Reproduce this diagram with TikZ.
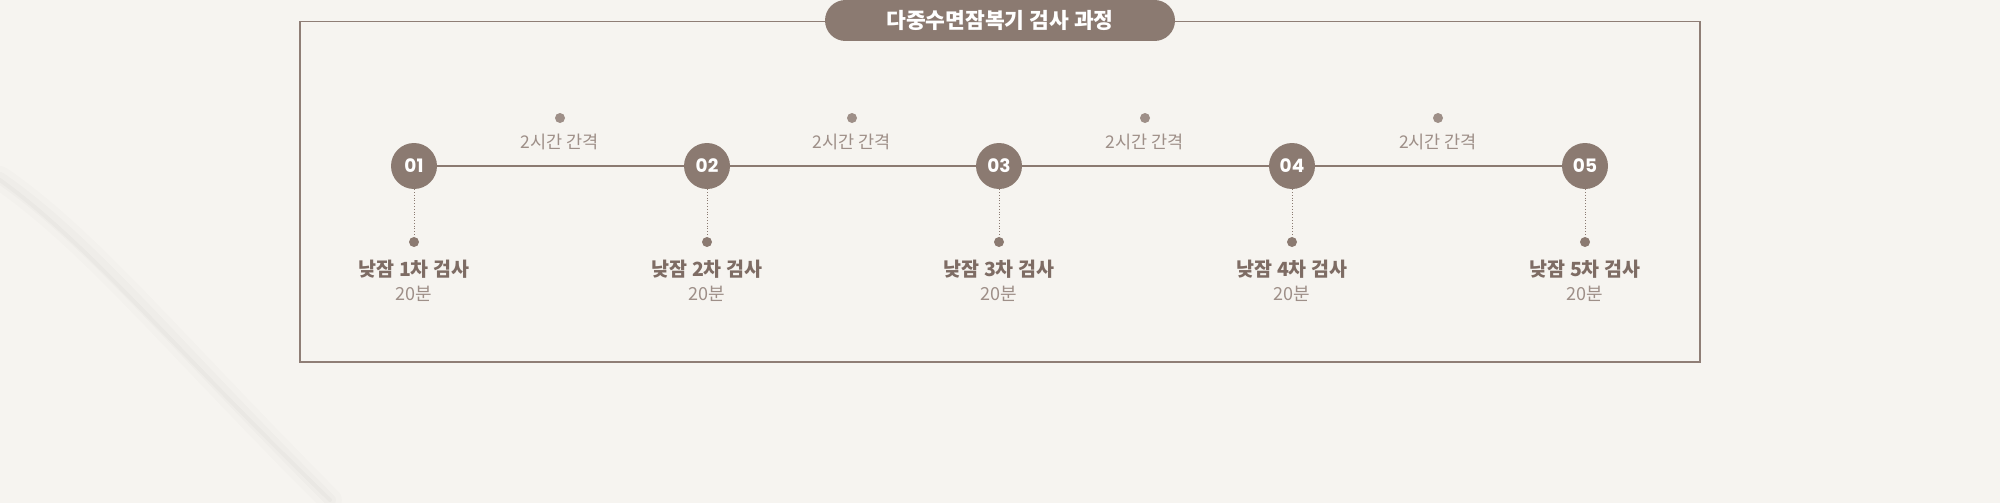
\documentclass[tikz,border=0pt]{standalone}
\usepackage{tikz}
\usepackage{xcolor}
\usepackage{fontspec}
\newfontfamily\krfont{Noto Sans CJK KR}
\newfontfamily\numfont{Poppins}
\definecolor{paper}{HTML}{F6F4F0}
\definecolor{mocha}{HTML}{8B7A71}
\definecolor{mochatext}{HTML}{7E6C64}
\definecolor{mochalight}{HTML}{9E8F88}
\definecolor{frameline}{HTML}{8F7E76}

\begin{document}
\begin{tikzpicture}[x=1pt,y=-1pt,
    stepnum/.style={circle,fill=mocha,minimum size=46pt,inner sep=0pt,text=white,font=\numfont\bfseries\fontsize{18.5}{18.5}\selectfont},
    stepdot/.style={circle,fill=mocha,minimum size=10pt,inner sep=0pt},
    gapdot/.style={circle,fill=mochalight,minimum size=10pt,inner sep=0pt},
    gaptext/.style={text=mochalight,font=\krfont\fontsize{17.5}{17.5}\selectfont},
    steptext/.style={text=mochatext,font=\krfont\bfseries\fontsize{19.5}{19.5}\selectfont},
    timetext/.style={text=mochalight,font=\krfont\fontsize{18}{18}\selectfont},
    titlepill/.style={rounded corners=20.5pt,fill=mocha,minimum width=350pt,minimum height=41pt,inner sep=0pt,text=white,font=\krfont\bfseries\fontsize{21.5}{21.5}\selectfont} ]
    \fill [paper] (0,0) rectangle (2000,503);
    \useasboundingbox (0,0) rectangle (2000,503);
    % faint marble vein
    \draw [black,line width=24pt,opacity=0.012,line cap=round] (0,178) .. controls (90,240) and (170,340) .. (330,500);
    \draw [black,line width=12pt,opacity=0.015,line cap=round] (0,178) .. controls (90,240) and (170,340) .. (330,500);
    \draw [black,line width=4pt,opacity=0.018,line cap=round] (0,180) .. controls (90,245) and (170,345) .. (330,500);
    % frame and title
    \draw [frameline,line width=1.3pt] (300,21.7) rectangle (1700,362);
    \node [titlepill] (title) at (1000,20.5) {다중수면잠복기 검사 과정};
    % steps
    \node [stepnum] (s1) at (414,166) {01};
    \node [stepnum] (s2) at (707,166) {02};
    \node [stepnum] (s3) at (999,166) {03};
    \node [stepnum] (s4) at (1292,166) {04};
    \node [stepnum] (s5) at (1585,166) {05};
    \draw [mocha,line width=2pt] (s1) -- (s2) -- (s3) -- (s4) -- (s5);
    % intervals
    \node [gapdot] (g1) at (560,118) {};
    \node [gaptext] (gt1) at (560,142) {2시간 간격};
    \node [gapdot] (g2) at (852,118) {};
    \node [gaptext] (gt2) at (852,142) {2시간 간격};
    \node [gapdot] (g3) at (1145,118) {};
    \node [gaptext] (gt3) at (1145,142) {2시간 간격};
    \node [gapdot] (g4) at (1438,118) {};
    \node [gaptext] (gt4) at (1438,142) {2시간 간격};
    % labels under the steps
    \node [stepdot] (d1) at (414,242) {};
    \node [stepdot] (d2) at (707,242) {};
    \node [stepdot] (d3) at (999,242) {};
    \node [stepdot] (d4) at (1292,242) {};
    \node [stepdot] (d5) at (1585,242) {};
    \draw [mocha,dotted,line width=0.8pt] (s1) -- (d1);
    \draw [mocha,dotted,line width=0.8pt] (s2) -- (d2);
    \draw [mocha,dotted,line width=0.8pt] (s3) -- (d3);
    \draw [mocha,dotted,line width=0.8pt] (s4) -- (d4);
    \draw [mocha,dotted,line width=0.8pt] (s5) -- (d5);
    \node [steptext] (t1) at (414,269) {낮잠 1차 검사};
    \node [timetext] (m1) at (414,294) {20분};
    \node [steptext] (t2) at (707,269) {낮잠 2차 검사};
    \node [timetext] (m2) at (707,294) {20분};
    \node [steptext] (t3) at (999,269) {낮잠 3차 검사};
    \node [timetext] (m3) at (999,294) {20분};
    \node [steptext] (t4) at (1292,269) {낮잠 4차 검사};
    \node [timetext] (m4) at (1292,294) {20분};
    \node [steptext] (t5) at (1585,269) {낮잠 5차 검사};
    \node [timetext] (m5) at (1585,294) {20분};
    \end{tikzpicture}
\end{document}
